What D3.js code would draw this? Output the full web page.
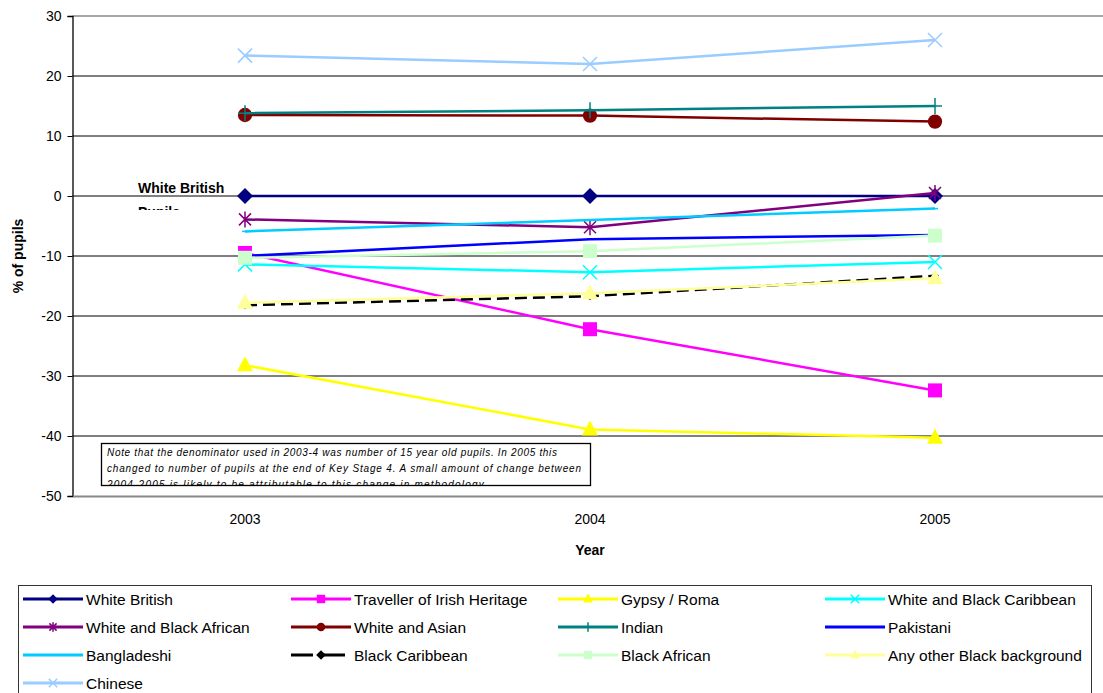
<!DOCTYPE html>
<html>
<head>
<meta charset="utf-8">
<script src="https://cdn.jsdelivr.net/npm/d3@7"></script>
<style>
  body { margin: 0; background: #fff; }
  svg { font-family: "Liberation Sans", Arial, sans-serif; }
</style>
</head>
<body>
<svg id="chart" width="1103" height="693"></svg>
<script>
// data
const years = ['2003', '2004', '2005'];
const yTicks = [30, 20, 10, 0, -10, -20, -30, -40, -50];

const seriesNames = [
    'White British', 'Traveller of Irish Heritage', 'Gypsy / Roma', 'White and Black Caribbean',
    'White and Black African', 'White and Asian', 'Indian', 'Pakistani',
    'Bangladeshi', 'Black Caribbean', 'Black African', 'Any other Black background',
    'Chinese'
];
const whiteBritish = [0, 0, 0];
const travellerIrish = [-9.5, -22.2, -32.4];
const gypsyRoma = [-28.2, -38.9, -40.3];
const whiteBlackCaribbean = [-11.4, -12.7, -11.0];
const whiteBlackAfrican = [-3.9, -5.2, 0.5];
const whiteAsian = [13.5, 13.4, 12.4];
const indian = [13.8, 14.3, 15.0];
const pakistani = [-10.0, -7.2, -6.5];
const bangladeshi = [-5.9, -4.0, -2.1];
const blackCaribbean = [-18.2, -16.7, -13.3];
const blackAfrican = [-10.3, -9.2, -6.6];
const otherBlack = [-17.8, -16.2, -13.7];
const chinese = [23.4, 22.0, 26.0];

const seriesValues = [whiteBritish, travellerIrish, gypsyRoma, whiteBlackCaribbean,
    whiteBlackAfrican, whiteAsian, indian, pakistani, bangladeshi, blackCaribbean,
    blackAfrican, otherBlack, chinese];

const styles = [
    { color: '#000080', marker: 'diamond' },
    { color: '#ff00ff', marker: 'square' },
    { color: '#ffff00', marker: 'triangle' },
    { color: '#00ffff', marker: 'x' },
    { color: '#800080', marker: 'star' },
    { color: '#800000', marker: 'circle' },
    { color: '#008080', marker: 'plus' },
    { color: '#0000ff', marker: 'dash' },
    { color: '#00ccff', marker: 'dash' },
    { color: '#000000', marker: 'smalldiamond', dashed: true },
    { color: '#ccffcc', marker: 'square' },
    { color: '#ffff99', marker: 'triangle' },
    { color: '#99ccff', marker: 'x' }
];

const series = seriesNames.map((name, i) => ({ name, values: seriesValues[i], ...styles[i] }));

const margin = { left: 72.5, top: 16 };
const plotW = 1035, plotH = 480;

const svg = d3.select('#chart');
const chart = svg.append('g').attr('transform', `translate(${margin.left},${margin.top})`);

const x = d3.scaleBand().domain(years).range([0, plotW]);
const y = d3.scaleLinear().domain([-50, 30]).range([plotH, 0]);

// gridlines
chart.selectAll('.grid')
    .data(yTicks.filter(d => d > -50))
    .join('line')
    .attr('x1', 0).attr('x2', plotW)
    .attr('y1', d => y(d)).attr('y2', d => y(d))
    .attr('stroke', d => d === 30 ? '#888' : '#000')
    .attr('stroke-width', d => d === 30 ? 1.5 : 1);

// y axis
const yAxis = chart.append('g')
    .call(d3.axisLeft(y).tickValues(yTicks).tickFormat(d => String(d)).tickSize(5).tickPadding(6));
yAxis.select('.domain').attr('stroke', '#000').attr('stroke-width', 1.3);
yAxis.selectAll('.tick line').attr('stroke', '#000');
yAxis.selectAll('.tick text').attr('font-size', 14).attr('fill', '#000')
    .attr('font-family', '"Liberation Sans", Arial, sans-serif');

// x axis
const xAxis = chart.append('g')
    .attr('transform', `translate(0,${plotH})`)
    .call(d3.axisBottom(x).tickSize(0).tickPadding(18));
xAxis.select('.domain').attr('stroke', '#888').attr('stroke-width', 2);
xAxis.selectAll('.tick text').attr('font-size', 14).attr('fill', '#000')
    .attr('font-family', '"Liberation Sans", Arial, sans-serif');

// axis titles
svg.append('text')
    .attr('transform', 'translate(23,256) rotate(-90)')
    .attr('text-anchor', 'middle')
    .attr('font-size', 14).attr('font-weight', 'bold')
    .text('% of pupils');
svg.append('text')
    .attr('x', margin.left + plotW / 2).attr('y', 555)
    .attr('text-anchor', 'middle')
    .attr('font-size', 14).attr('font-weight', 'bold')
    .text('Year');

// "White British Pupils" label box (second line cut off as in the original)
svg.append('clipPath').attr('id', 'wbclip')
    .append('rect').attr('x', 130).attr('y', 176).attr('width', 120).attr('height', 34);
const wb = svg.append('g').attr('clip-path', 'url(#wbclip)');
wb.append('text').attr('x', 138).attr('y', 193)
    .attr('font-size', 14).attr('font-weight', 'bold').text('White British');
wb.append('text').attr('x', 138).attr('y', 217)
    .attr('font-size', 14).attr('font-weight', 'bold').text('Pupils');

// marker symbols
function markerPath(type) {
    switch (type) {
        case 'diamond': return 'M0,-8L8,0L0,8L-8,0Z';
        case 'smalldiamond': return 'M0,-4L4,0L0,4L-4,0Z';
        case 'square': return 'M-7,-7H7V7H-7Z';
        case 'triangle': return 'M0,-9L8,6H-8Z';
        case 'circle': return d3.symbol(d3.symbolCircle, 160)();
        case 'x': return 'M-7,-7L7,7M-7,7L7,-7';
        case 'plus': return 'M-7,0L7,0M0,-8L0,8';
        case 'star': return 'M-6,-6L6,6M-6,6L6,-6M0,-8L0,8';
        case 'dash': return 'M-3,0L3,0';
    }
}
const strokeMarkers = new Set(['x', 'plus', 'star', 'dash']);

const line = d3.line()
    .x((d, i) => x(years[i]) + x.bandwidth() / 2)
    .y(d => y(d));

series.forEach(s => {
    const g = chart.append('g');
    g.append('path')
        .attr('d', line(s.values))
        .attr('fill', 'none')
        .attr('stroke', s.color)
        .attr('stroke-width', 2.5)
        .attr('stroke-dasharray', s.dashed ? '12,6' : null);
    g.selectAll('path.mk')
        .data(s.values)
        .join('path')
        .attr('class', 'mk')
        .attr('transform', (d, i) => `translate(${x(years[i]) + x.bandwidth() / 2},${y(d)})`)
        .attr('d', markerPath(s.marker))
        .attr('fill', strokeMarkers.has(s.marker) ? 'none' : s.color)
        .attr('stroke', strokeMarkers.has(s.marker) ? s.color : 'none')
        .attr('stroke-width', 1.5);
});

// note box
const note = svg.append('g');
svg.append('clipPath').attr('id', 'noteclip')
    .append('rect').attr('x', 101).attr('y', 443).attr('width', 489).attr('height', 42);
note.append('rect')
    .attr('x', 101.5).attr('y', 443.5).attr('width', 489).attr('height', 42)
    .attr('fill', '#fff').attr('stroke', '#000').attr('stroke-width', 1.3);
const noteLines = [
    'Note that the denominator used in 2003-4 was number of 15 year old pupils.  In 2005 this',
    'changed to number of pupils at the end of Key Stage 4.  A small amount of change between',
    '2004-2005 is likely to be attributable to this change in methodology.'
];
note.append('g').attr('clip-path', 'url(#noteclip)')
    .selectAll('text')
    .data(noteLines)
    .join('text')
    .attr('x', 107).attr('y', (d, i) => 456 + i * 16)
    .attr('font-size', 10).attr('font-style', 'italic')
    .attr('textLength', (d, i) => i === 0 ? 450 : (i === 1 ? 474 : 380))
    .text(d => d);

// legend
svg.append('rect')
    .attr('x', 18.5).attr('y', 585.5).attr('width', 1073).attr('height', 120)
    .attr('fill', '#fff').attr('stroke', '#333').attr('stroke-width', 1);
const colX = [23, 291, 558, 825];
const legend = svg.append('g').selectAll('g')
    .data(series)
    .join('g')
    .attr('transform', (d, i) => `translate(${colX[i % 4]},${599 + Math.floor(i / 4) * 28})`);
legend.append('line')
    .attr('x1', 0).attr('x2', 60).attr('y1', 0).attr('y2', 0)
    .attr('stroke', d => d.color).attr('stroke-width', 3)
    .attr('stroke-dasharray', d => d.dashed ? '22,10' : null);
legend.append('path')
    .attr('transform', 'translate(30,0) scale(0.6)')
    .attr('d', d => markerPath(d.marker === 'smalldiamond' ? 'diamond' : d.marker))
    .attr('fill', d => strokeMarkers.has(d.marker) ? 'none' : d.color)
    .attr('stroke', d => strokeMarkers.has(d.marker) ? d.color : 'none')
    .attr('stroke-width', 2.5);
legend.append('text')
    .attr('x', 63).attr('y', 5.5)
    .attr('font-size', 15.5)
    .text(d => d.name);
</script>
</body>
</html>
